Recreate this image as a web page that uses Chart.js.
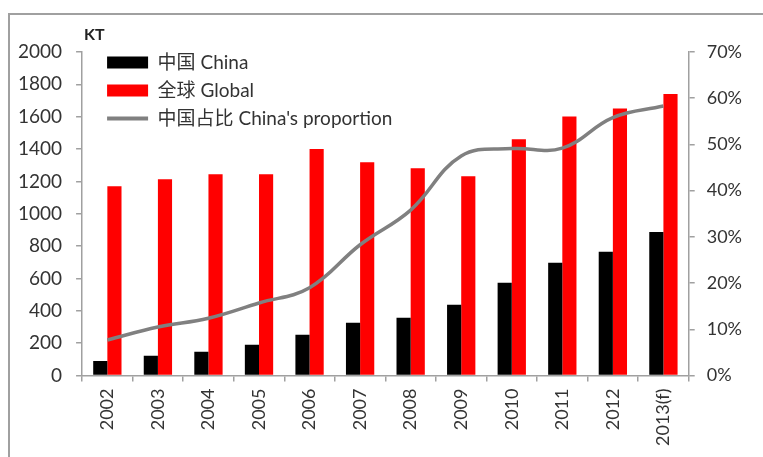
<!DOCTYPE html>
<html lang="zh">
<head>
    <meta charset="UTF-8">
    <title>China vs Global</title>
    <script src="https://cdn.jsdelivr.net/npm/chart.js"></script>
    <style>
        body {
            margin: 0;
            padding: 0;
            background: #fff;
            overflow: hidden;
        }
        .frame {
            position: absolute;
            left: 8px;
            top: 13px;
            width: 900px;
            height: 600px;
            border-top: 2px solid #a0a0a0;
            border-left: 2px solid #a0a0a0;
        }
        #chart {
            position: absolute;
            left: 0;
            top: 0;
        }
    </style>
</head>
<body>
    <div class="frame"></div>
    <canvas id="chart" width="763" height="457"></canvas>

    <script>
        const years = ['2002', '2003', '2004', '2005', '2006', '2007', '2008', '2009', '2010', '2011', '2012', '2013(f)'];
        const chinaKT = [90, 122, 147, 190, 252, 326, 357, 438, 574, 698, 766, 887];
        const globalKT = [1170, 1214, 1245, 1245, 1400, 1319, 1282, 1232, 1460, 1602, 1651, 1740];
        const chinaShare = [7.7, 10.5, 12.4, 15.7, 19.0, 28.3, 35.8, 47.5, 49.1, 49.2, 55.8, 58.3];
        const ktTicks = { min: 0, max: 2000, step: 200 };
        const shareTicks = { min: 0, max: 70, step: 10 };

        const fontFamily = "Lato, 'Noto Sans CJK SC', sans-serif";
        const axisGray = '#a0a0a0';
        const textColor = '#333';

        // "KT" unit label above the left axis
        const unitLabel = {
            id: 'unitLabel',
            afterDraw(chart) {
                const ctx = chart.ctx;
                ctx.save();
                ctx.font = 'bold 16px ' + fontFamily;
                ctx.fillStyle = '#222';
                ctx.textAlign = 'left';
                ctx.textBaseline = 'middle';
                ctx.fillText('KT', chart.chartArea.left + 2, 35);
                ctx.restore();
            }
        };

        // put the legend inside the plot, top left
        const legendSpot = {
            id: 'legendSpot',
            afterLayout(chart) {
                chart.legend.left = chart.chartArea.left + 16;
                chart.legend.top = chart.chartArea.top - 8;
            }
        };

        new Chart(document.getElementById('chart'), {
            type: 'bar',
            data: {
                labels: years,
                datasets: [
                    {
                        label: '中国 China',
                        data: chinaKT,
                        backgroundColor: '#000000',
                        yAxisID: 'y',
                        order: 1
                    },
                    {
                        label: '全球 Global',
                        data: globalKT,
                        backgroundColor: '#ff0000',
                        yAxisID: 'y',
                        order: 1
                    },
                    {
                        type: 'line',
                        label: "中国占比 China's proportion",
                        data: chinaShare,
                        borderColor: '#808080',
                        backgroundColor: '#808080',
                        borderWidth: 3.5,
                        pointRadius: 0,
                        tension: 0.4,
                        yAxisID: 'y1',
                        order: 0
                    }
                ]
            },
            options: {
                responsive: false,
                animation: false,
                categoryPercentage: 0.56,
                barPercentage: 1.0,
                layout: {
                    padding: { left: 4, right: 9, top: 52, bottom: 4 }
                },
                plugins: {
                    title: { display: false },
                    tooltip: { enabled: false },
                    legend: {
                        position: 'chartArea',
                        align: 'start',
                        labels: {
                            usePointStyle: true,
                            pointStyleWidth: 41,
                            boxHeight: 12,
                            padding: 9,
                            color: textColor,
                            font: { family: fontFamily, size: 19 },
                            sort: (a, b) => a.datasetIndex - b.datasetIndex,
                            generateLabels(chart) {
                                return chart.data.datasets.map((ds, i) => ({
                                    text: ds.label,
                                    datasetIndex: i,
                                    fillStyle: ds.backgroundColor,
                                    strokeStyle: ds.type === 'line' ? ds.borderColor : ds.backgroundColor,
                                    lineWidth: ds.type === 'line' ? 4 : 0,
                                    pointStyle: ds.type === 'line' ? 'line' : 'rect',
                                    fontColor: textColor,
                                    hidden: false
                                }));
                            }
                        }
                    }
                },
                scales: {
                    x: {
                        grid: {
                            display: true,
                            drawOnChartArea: false,
                            tickLength: 6,
                            color: axisGray,
                            lineWidth: 1.5
                        },
                        border: { color: axisGray, width: 1.5 },
                        ticks: {
                            color: textColor,
                            font: { family: fontFamily, size: 18 },
                            maxRotation: 90,
                            minRotation: 90,
                            padding: 7
                        }
                    },
                    y: {
                        position: 'left',
                        min: ktTicks.min,
                        max: ktTicks.max,
                        grid: {
                            display: true,
                            drawOnChartArea: false,
                            tickLength: 6,
                            color: axisGray,
                            lineWidth: 1.5
                        },
                        border: { color: axisGray, width: 1.5 },
                        ticks: {
                            stepSize: ktTicks.step,
                            color: textColor,
                            font: { family: fontFamily, size: 19 },
                            padding: 14,
                            callback: v => String(v)
                        }
                    },
                    y1: {
                        position: 'right',
                        min: shareTicks.min,
                        max: shareTicks.max,
                        grid: {
                            display: true,
                            drawOnChartArea: false,
                            tickLength: 6,
                            color: axisGray,
                            lineWidth: 1.5
                        },
                        border: { color: axisGray, width: 1.5 },
                        ticks: {
                            stepSize: shareTicks.step,
                            color: textColor,
                            font: { family: fontFamily, size: 18 },
                            padding: 12,
                            callback: v => v + '%'
                        }
                    }
                }
            },
            plugins: [unitLabel, legendSpot]
        });
    </script>
</body>
</html>
